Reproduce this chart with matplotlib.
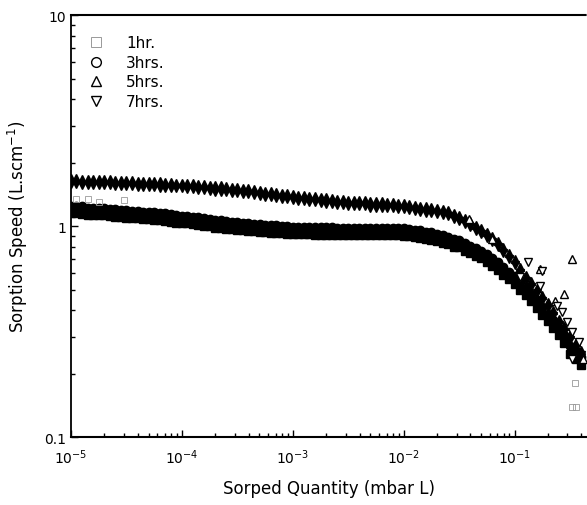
import matplotlib
matplotlib.use("Agg")
import matplotlib.pyplot as plt
from matplotlib.lines import Line2D
from matplotlib.ticker import LogLocator, FixedLocator, FixedFormatter, NullFormatter

plt.rcParams['font.family'] = ['DejaVu Sans']
plt.rcParams['mathtext.fontset'] = 'dejavusans'

# sorped quantity (mbar L), sampled every 1/20 decade
quantity = [
    1.00e-5, 1.12e-5, 1.26e-5, 1.41e-5, 1.58e-5, 1.78e-5, 2.00e-5, 2.24e-5, 2.51e-5, 2.82e-5,
    3.16e-5, 3.55e-5, 3.98e-5, 4.47e-5, 5.01e-5, 5.62e-5, 6.31e-5, 7.08e-5, 7.94e-5, 8.91e-5,
    1.00e-4, 1.12e-4, 1.26e-4, 1.41e-4, 1.58e-4, 1.78e-4, 2.00e-4, 2.24e-4, 2.51e-4, 2.82e-4,
    3.16e-4, 3.55e-4, 3.98e-4, 4.47e-4, 5.01e-4, 5.62e-4, 6.31e-4, 7.08e-4, 7.94e-4, 8.91e-4,
    1.00e-3, 1.12e-3, 1.26e-3, 1.41e-3, 1.58e-3, 1.78e-3, 2.00e-3, 2.24e-3, 2.51e-3, 2.82e-3,
    3.16e-3, 3.55e-3, 3.98e-3, 4.47e-3, 5.01e-3, 5.62e-3, 6.31e-3, 7.08e-3, 7.94e-3, 8.91e-3,
    1.00e-2, 1.12e-2, 1.26e-2, 1.41e-2, 1.58e-2, 1.78e-2, 2.00e-2, 2.24e-2, 2.51e-2, 2.82e-2,
    3.16e-2, 3.55e-2, 3.98e-2, 4.47e-2, 5.01e-2, 5.62e-2, 6.31e-2, 7.08e-2, 7.94e-2, 8.91e-2,
    1.00e-1, 1.12e-1, 1.26e-1, 1.41e-1, 1.58e-1, 1.78e-1, 2.00e-1, 2.24e-1, 2.51e-1, 2.82e-1,
    3.16e-1, 3.55e-1, 3.98e-1]

# sorption speed (L/s/cm2)
s_1hr = [
    1.15, 1.15, 1.14, 1.13, 1.125, 1.125, 1.125, 1.115, 1.105, 1.10,
    1.095, 1.09, 1.09, 1.08, 1.08, 1.075, 1.07, 1.06, 1.05, 1.04,
    1.03, 1.03, 1.025, 1.015, 1.005, 0.997, 0.985, 0.985, 0.975, 0.97,
    0.963, 0.957, 0.95, 0.945, 0.94, 0.935, 0.93, 0.93, 0.926, 0.92,
    0.917, 0.917, 0.917, 0.915, 0.912, 0.91, 0.912, 0.91, 0.908, 0.906,
    0.908, 0.906, 0.908, 0.906, 0.908, 0.906, 0.908, 0.906, 0.908, 0.905,
    0.903, 0.895, 0.885, 0.88, 0.866, 0.86, 0.848, 0.835, 0.82, 0.80,
    0.793, 0.765, 0.747, 0.725, 0.705, 0.68, 0.65, 0.62, 0.59, 0.56,
    0.535, 0.50, 0.47, 0.44, 0.41, 0.38, 0.355, 0.33, 0.304, 0.28,
    0.249, 0.235, 0.221]
s_3hr = [
    1.25, 1.25, 1.24, 1.225, 1.22, 1.22, 1.22, 1.21, 1.20, 1.195,
    1.19, 1.18, 1.18, 1.17, 1.17, 1.165, 1.16, 1.15, 1.14, 1.13,
    1.12, 1.12, 1.11, 1.10, 1.09, 1.08, 1.07, 1.07, 1.06, 1.05,
    1.045, 1.04, 1.03, 1.025, 1.02, 1.015, 1.01, 1.01, 1.005, 1.00,
    0.995, 0.995, 0.995, 0.993, 0.99, 0.987, 0.99, 0.987, 0.985, 0.983,
    0.985, 0.983, 0.985, 0.983, 0.985, 0.983, 0.985, 0.983, 0.985, 0.982,
    0.98, 0.97, 0.96, 0.955, 0.94, 0.935, 0.92, 0.905, 0.89, 0.87,
    0.86, 0.83, 0.81, 0.787, 0.765, 0.738, 0.705, 0.673, 0.64, 0.608,
    0.58, 0.543, 0.51, 0.477, 0.445, 0.412, 0.385, 0.358, 0.33, 0.304,
    0.27, 0.255, 0.24]
s_5hr = [
    1.69, 1.69, 1.68, 1.68, 1.67, 1.67, 1.67, 1.67, 1.66, 1.655,
    1.65, 1.65, 1.64, 1.64, 1.635, 1.635, 1.63, 1.62, 1.62, 1.61,
    1.61, 1.60, 1.60, 1.59, 1.58, 1.57, 1.56, 1.56, 1.55, 1.54,
    1.53, 1.52, 1.51, 1.495, 1.48, 1.475, 1.465, 1.45, 1.44, 1.43,
    1.42, 1.41, 1.40, 1.395, 1.39, 1.38, 1.37, 1.36, 1.35, 1.345,
    1.335, 1.335, 1.33, 1.325, 1.31, 1.31, 1.31, 1.30, 1.30, 1.29,
    1.285, 1.275, 1.26, 1.25, 1.24, 1.23, 1.22, 1.205, 1.19, 1.16,
    1.13, 1.09, 1.06, 1.015, 0.98, 0.94, 0.90, 0.855, 0.795, 0.75,
    0.70, 0.64, 0.59, 0.55, 0.51, 0.47, 0.435, 0.40, 0.365, 0.335,
    0.31, 0.283, 0.26]
s_7hr = [
    1.58, 1.58, 1.575, 1.57, 1.565, 1.565, 1.565, 1.56, 1.555, 1.55,
    1.545, 1.545, 1.535, 1.535, 1.53, 1.53, 1.525, 1.52, 1.515, 1.51,
    1.51, 1.50, 1.50, 1.49, 1.48, 1.47, 1.46, 1.46, 1.45, 1.44,
    1.43, 1.42, 1.415, 1.40, 1.385, 1.38, 1.37, 1.36, 1.35, 1.34,
    1.33, 1.32, 1.31, 1.305, 1.30, 1.29, 1.28, 1.275, 1.265, 1.26,
    1.25, 1.25, 1.245, 1.24, 1.225, 1.225, 1.225, 1.22, 1.215, 1.21,
    1.205, 1.195, 1.18, 1.17, 1.16, 1.15, 1.14, 1.13, 1.115, 1.085,
    1.06, 1.02, 0.99, 0.95, 0.92, 0.88, 0.845, 0.80, 0.745, 0.70,
    0.655, 0.60, 0.55, 0.515, 0.48, 0.44, 0.41, 0.375, 0.34, 0.315,
    0.29, 0.265, 0.245]

# scattered points away from the bands
q_1hr_extra = [1.12e-5, 1.41e-5, 1.8e-5, 3.0e-5, 0.35, 0.33, 0.36]
s_1hr_extra = [1.35, 1.34, 1.30, 1.33, 0.18, 0.139, 0.139]
q_5hr_extra = [0.039, 0.063, 0.168, 0.23, 0.28, 0.33, 0.41]
s_5hr_extra = [1.08, 0.87, 0.625, 0.44, 0.476, 0.70, 0.234]
q_7hr_extra = [0.111, 0.131, 0.175, 0.168, 0.24, 0.27, 0.30, 0.33, 0.385, 0.33]
s_7hr_extra = [0.573, 0.675, 0.612, 0.52, 0.418, 0.39, 0.35, 0.315, 0.283, 0.234]

labels = ["1hr.", "3hrs.", "5hrs.", "7hrs."]
markers = ["s", "o", "^", "v"]

fig = plt.figure(figsize=(5.87, 5.06), dpi=100)
ax = fig.add_axes([0.121, 0.134, 0.879, 0.834])

# dense bands: the overlapping symbols print as solid black strips
band = dict(ls="none", ms=6.0, mfc="black", mec="black", mew=1.0)
for s, m in zip([s_1hr, s_3hr, s_5hr, s_7hr], markers):
    ax.plot(quantity, s, marker=m, **band)

# isolated points keep their thin open outlines
loose = dict(ls="none", ms=6, mfc="white", mew=1.0)
ax.plot(q_1hr_extra, s_1hr_extra, marker="s", mec="0.6", ms=4, mew=0.6,
        ls="none", mfc="none")
ax.plot(q_5hr_extra, s_5hr_extra, marker="^", mec="black", **loose)
ax.plot(q_7hr_extra, s_7hr_extra, marker="v", mec="black", **loose)

ax.set_xscale("log")
ax.set_yscale("log")
ax.set_xlim(1e-5, 0.45)
ax.set_ylim(0.1, 10)

ax.yaxis.set_major_locator(FixedLocator([0.1, 1, 10]))
ax.yaxis.set_major_formatter(FixedFormatter(["0.1", "1", "10"]))
ax.yaxis.set_minor_locator(LogLocator(base=10, subs=range(2, 10), numticks=20))
ax.yaxis.set_minor_formatter(NullFormatter())
ax.xaxis.set_major_locator(FixedLocator([1e-5, 1e-4, 1e-3, 1e-2, 1e-1]))
ax.xaxis.set_major_formatter(FixedFormatter([r"$10^{-5}$", r"$10^{-4}$", r"$10^{-3}$",
                                             r"$10^{-2}$", r"$10^{-1}$"]))
ax.xaxis.set_minor_locator(LogLocator(base=10, subs=range(2, 10), numticks=20))
ax.xaxis.set_minor_formatter(NullFormatter())

ax.tick_params(which="both", direction="in", top=False, right=False, labelsize=10,
               width=1.0, colors="black")
ax.tick_params(which="major", length=5)
ax.tick_params(which="minor", length=3)
ax.tick_params(axis="x", pad=7)

ax.spines["right"].set_visible(False)
ax.spines["top"].set_linestyle((0, (1, 1)))
ax.spines["top"].set_linewidth(1.5)
ax.spines["left"].set_linewidth(1.3)
ax.spines["bottom"].set_linewidth(1.5)

ax.set_xlabel("Sorped Quantity (mbar L)", fontsize=12, labelpad=10)
ax.set_ylabel(r"Sorption Speed (L.scm$^{-1}$)", fontsize=12, labelpad=10)

handles = [Line2D([], [], ls="none", marker=m, ms=7, mfc="none", mec=c, mew=w)
           for m, c, w in zip(markers, ["0.6", "black", "black", "black"],
                              [0.7, 1.0, 1.0, 1.0])]
ax.legend(handles, labels, loc="upper left", frameon=False, fontsize=11,
          handletextpad=1.2, labelspacing=0.3, handlelength=1.5,
          bbox_to_anchor=(0.0, 0.985))

fig.savefig("out.png", dpi=100)
